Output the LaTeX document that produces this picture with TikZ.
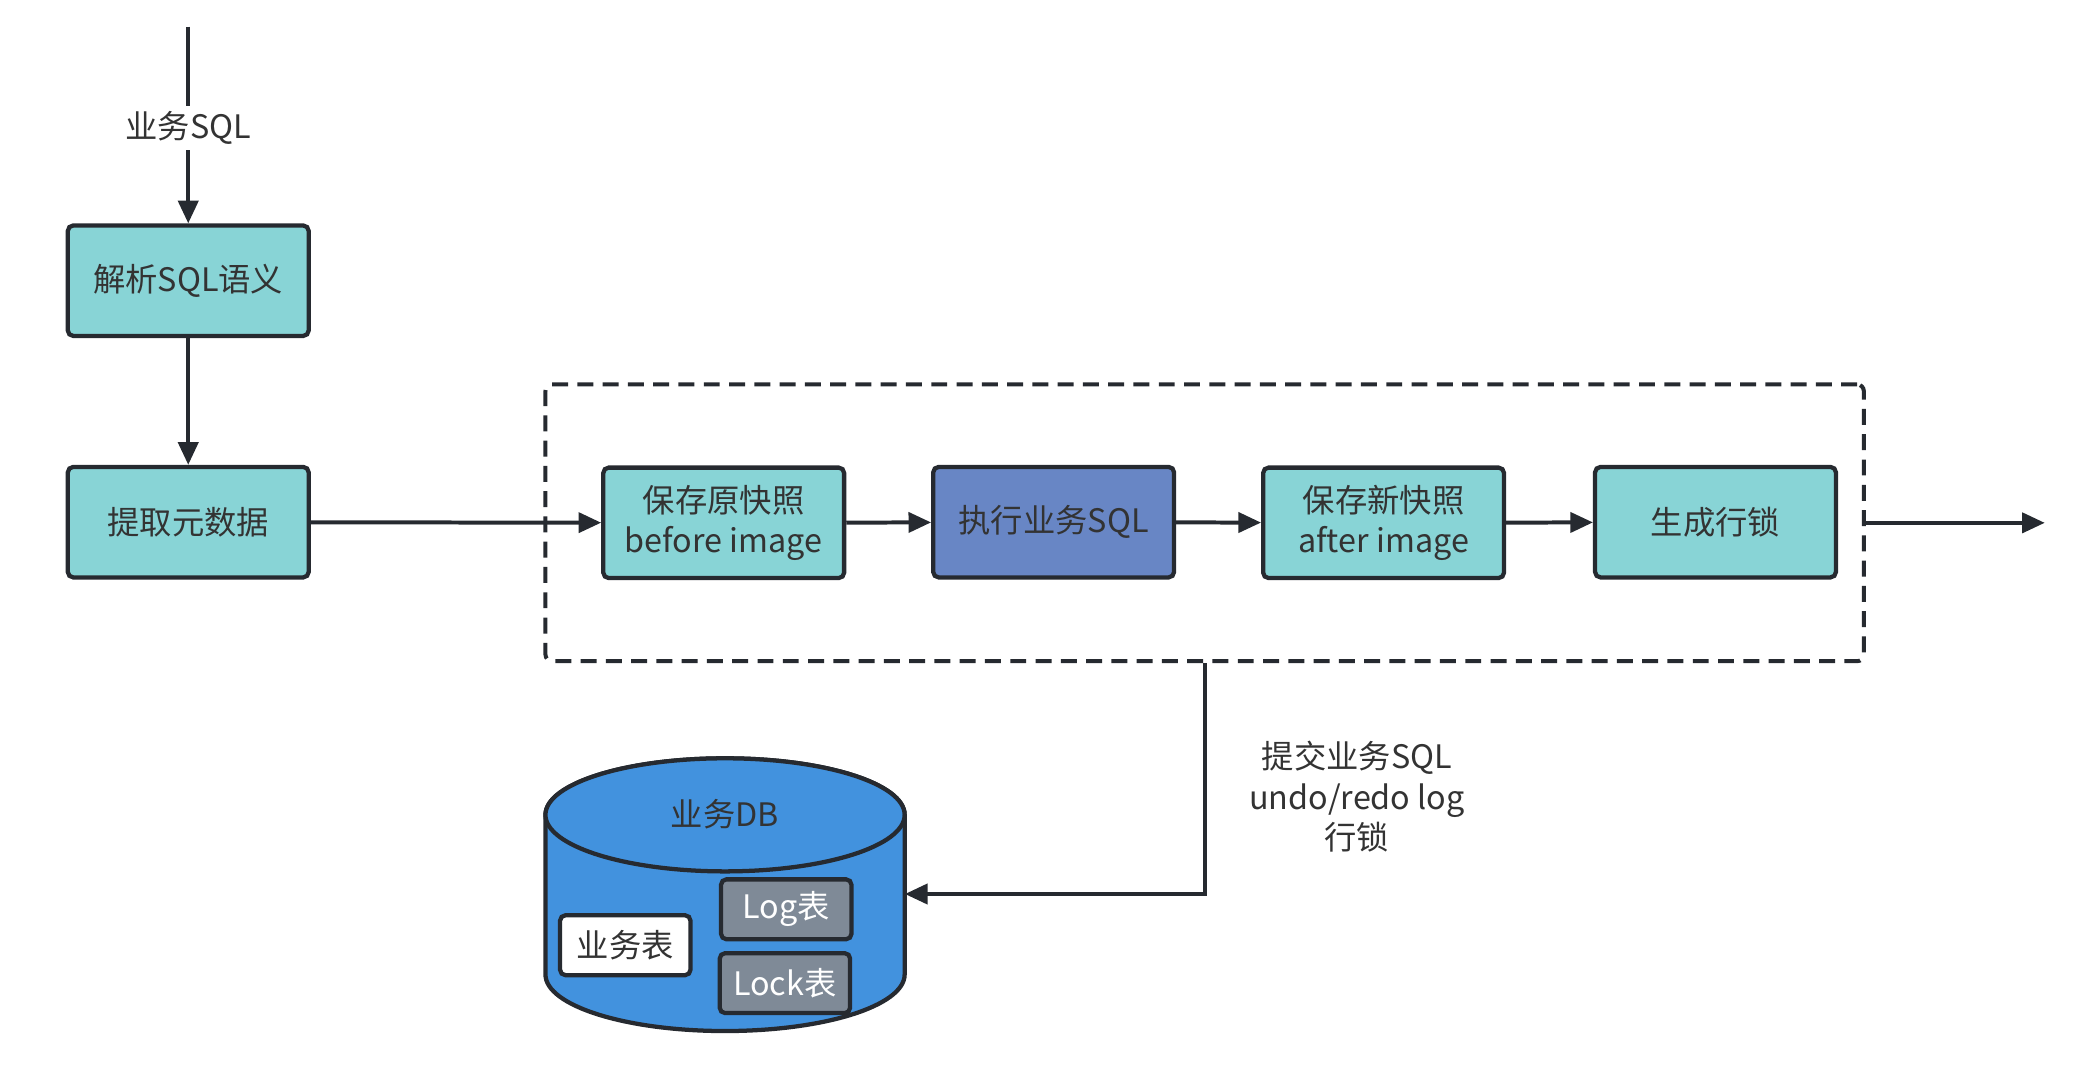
\documentclass[tikz,border=0pt]{standalone}
\usepackage{fontspec}
\setmainfont{Noto Sans CJK SC}
\usetikzlibrary{arrows.meta}
\definecolor{teal}{RGB}{136,212,214}
\definecolor{execc}{RGB}{104,134,197}
\definecolor{dbblue}{RGB}{66,146,222}
\definecolor{grayb}{RGB}{127,138,151}
\definecolor{strk}{RGB}{38,42,48}
\definecolor{txt}{RGB}{51,51,51}
\begin{document}
\begin{tikzpicture}[x=1pt,y=-1pt,
  font=\fontsize{24.3}{30.5}\selectfont,
  box/.style={draw=strk,line width=3.2pt,rounded corners=4pt,minimum width=181pt,minimum height=83pt,inner sep=0pt,align=center,text=txt,fill=teal},
  small/.style={draw=strk,line width=3.2pt,rounded corners=4pt,minimum width=98pt,minimum height=45pt,inner sep=0pt,text=white,fill=grayb},
  arr/.style={draw=strk,line width=3pt,-{Triangle[length=17pt,width=15pt]}},
  lbl/.style={text=txt,align=center,inner sep=1pt}]
\useasboundingbox (0,0) rectangle (1568,813);
% group
\node[draw=strk,line width=3pt,dash pattern=on 12pt off 7pt,rounded corners=5pt,minimum width=991pt,minimum height=208pt,inner sep=0pt] (grp) at (905.5,393) {};
% left column
\coordinate (in) at (141.5,20);
\node[box] (parse) at (141.5,211) {解析SQL语义};
\node[box] (meta) at (141.5,392.5) {提取元数据};
% inner boxes
\node[box] (before) at (544,393) {保存原快照\\before image};
\node[box,fill=execc] (exec) at (792,392.5) {执行业务SQL};
\node[box] (after) at (1040,393) {保存新快照\\after image};
\node[box] (lock) at (1289.5,392.5) {生成行锁};
\coordinate (out) at (1537,393);
% connectors
\draw[arr] (in) -- node[lbl,fill=white,inner sep=4pt,yshift=-2pt] {业务SQL} (parse.north);
\draw[arr] (parse) -- (meta);
\draw[arr] (meta) -- (before);
\draw[arr] (before) -- (exec);
\draw[arr] (exec) -- (after);
\draw[arr] (after) -- (lock);
\draw[arr] (grp.east) -- (out);
% database cylinder
\node[minimum width=270pt,minimum height=205pt,inner sep=0pt] (db) at (545,672) {};
\draw[draw=strk,line width=3.2pt,fill=dbblue] (410,612.5) -- (410,732.5)
  arc[start angle=180,end angle=360,x radius=135pt,y radius=42.5pt] -- (680,612.5)
  arc[start angle=0,end angle=180,x radius=135pt,y radius=42.5pt] -- cycle;
\draw[draw=strk,line width=3.2pt,fill=dbblue] (545,612.5) ellipse[x radius=135pt,y radius=42.5pt];
\node[lbl] (dbname) at (545,612) {业务DB};
\node[small,fill=white,text=txt] (biz) at (470,710.5) {业务表};
\node[small] (logt) at (591,683.5) {Log表};
\node[small] (lockt) at (590,739) {Lock表};
\draw[arr] (grp.south) |- (db.east);
\node[lbl] (commit) at (1020,599) {提交业务SQL\\undo/redo log\\行锁};
\end{tikzpicture}
\end{document}
